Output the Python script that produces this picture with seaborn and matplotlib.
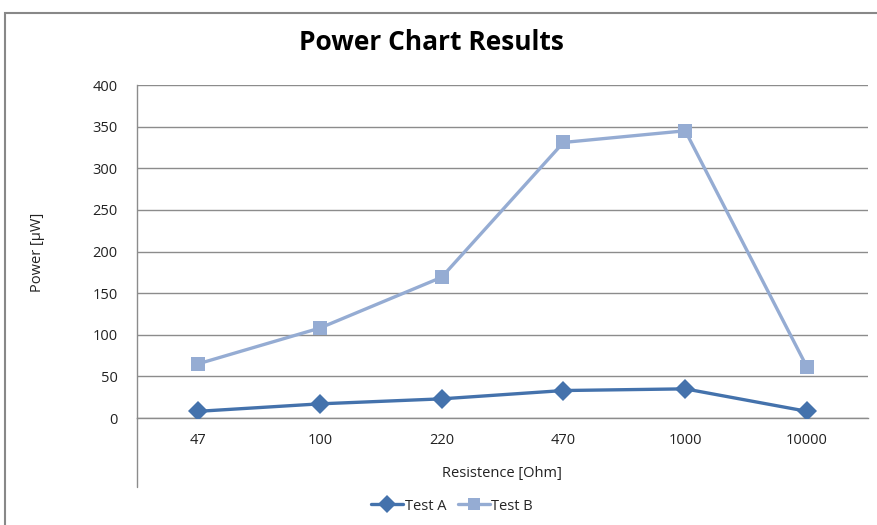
import matplotlib

matplotlib.use("Agg")
import matplotlib.pyplot as plt
import pandas as pd
import seaborn as sns
from matplotlib.lines import Line2D
from matplotlib.patches import Rectangle

resistances = ["47", "100", "220", "470", "1000", "10000"]
test_a = [8, 17, 23, 33, 35, 8]
test_b = [65, 108, 169, 331, 345, 61]
y_ticks = [0, 50, 100, 150, 200, 250, 300, 350, 400]

color_a = "#4472AC"
color_b = "#95ACD3"
grid_color = "#8C8C8C"

frame = pd.DataFrame(
    {
        "resistance": resistances * 2,
        "power": test_a + test_b,
        "series": ["Test A"] * len(resistances) + ["Test B"] * len(resistances),
    }
)

sns.set_theme(style="white")
plt.rcParams["font.family"] = ["Open Sans", "DejaVu Sans"]

fig = plt.figure(figsize=(8.78, 5.25), dpi=100)
ax = fig.add_axes([137 / 878, 107 / 525, 731 / 878, 333 / 525])

sns.lineplot(
    data=frame,
    x="resistance",
    y="power",
    hue="series",
    style="series",
    markers=["D", "s"],
    dashes=False,
    palette=[color_a, color_b],
    linewidth=2.4,
    markersize=10.5,
    markeredgewidth=0,
    legend=False,
    ax=ax,
    zorder=3,
)

ax.set_xlim(-0.5, len(resistances) - 0.5)
ax.set_ylim(0, 400)
ax.set_yticks(y_ticks)
ax.yaxis.grid(True, color=grid_color, linewidth=1)
ax.xaxis.grid(False)
ax.tick_params(axis="both", length=0, labelsize=10.5, colors="#222222")
ax.tick_params(axis="x", pad=11)
ax.tick_params(axis="y", pad=14)
for side in ["top", "right"]:
    ax.spines[side].set_visible(False)
for side in ["left", "bottom"]:
    ax.spines[side].set_color(grid_color)
    ax.spines[side].set_linewidth(1)
ax.set_xlabel("")
ax.set_ylabel("")

# Excel-style left axis running down past the category labels
fig.add_artist(
    Line2D([137 / 878, 137 / 878], [38 / 525, 107 / 525], color=grid_color, linewidth=1)
)
# chart border
fig.add_artist(
    Rectangle((5 / 878, -0.05), 1.0, 1 - 13 / 525 + 0.05, fill=False, edgecolor="#888888", linewidth=1.5)
)

fig.text(431 / 878, 1 - 42 / 525, "Power Chart Results", ha="center", va="center",
         fontsize=19, fontweight="bold", color="black")
fig.text(38 / 878, 1 - 252 / 525, "Power [µW]", ha="center", va="center",
         rotation=90, fontsize=10.5, color="#222222")
fig.text(502 / 878, 1 - 474 / 525, "Resistence [Ohm]", ha="center", va="center",
         fontsize=10.5, color="#222222")

handles = [
    Line2D([], [], color=color_a, marker="D", markersize=9, markeredgewidth=0, linewidth=2.4),
    Line2D([], [], color=color_b, marker="s", markersize=9, markeredgewidth=0, linewidth=2.4),
]
fig.legend(
    handles,
    ["Test A", "Test B"],
    loc="center",
    bbox_to_anchor=(452 / 878, 1 - 506 / 525),
    ncol=2,
    frameon=False,
    fontsize=10.5,
    handlelength=2.2,
    handletextpad=0.1,
    columnspacing=0.8,
)

fig.savefig("out.png", dpi=100)
